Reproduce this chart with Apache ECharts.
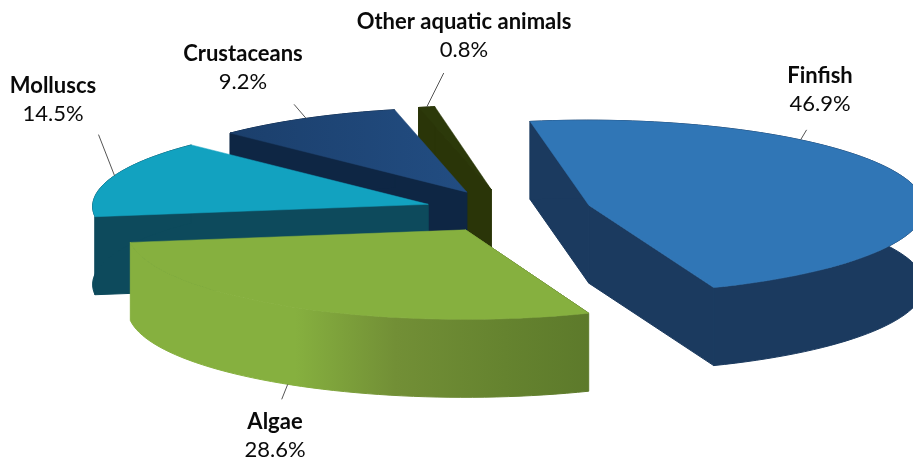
<!DOCTYPE html>
<html>
<head>
<meta charset="utf-8">
<style>html,body{margin:0;padding:0;background:#fff}#chart{width:913px;height:457px}</style>
<script src="https://cdn.jsdelivr.net/npm/echarts@6/dist/echarts.min.js"></script>
</head>
<body>
<div id="chart"></div>
<script>
// Share of production by group, in percent, listed clockwise from the first slice.
const groupNames = ['Finfish', 'Algae', 'Molluscs', 'Crustaceans', 'Other aquatic animals'];
const groupShares = [46.9, 28.6, 14.5, 9.2, 0.8];

// Colours per group: top face, side walls.
const topColors = ['#3076b6', '#86b03f', '#12a2c0', '#1e4776', '#2c390a'];
const wallColors = ['#1b3a5f', '#5d7a2b', '#0d4a5c', '#0e2644', '#2a3508'];

// Painting order, far slices first.
const paintRank = [3, 4, 2, 1, 0];

// Tilted-disc geometry of the whole pie.
const pie = { cx: 508, cy: 211, rx: 336, ry: 87, perspective: 0.02, depth: 78, explode: 0.25, startDeg: 260 };

// Label centres, leader tips relative to their rim anchor, and where on the slice's arc the leader starts.
const labelCenters = [[820, 76], [275, 422], [53, 86], [243, 54], [464, 22]];
const leaderTips = [[6, -10], [-6, 15], [-16, -41], [-12, -14], [17, -34]];
const leaderArcFraction = [0.297, 0.507, 0.53, 0.5, 0.5];
const lineGap = 28;
const fontFamily = 'Lato, "Open Sans", sans-serif';

const total = groupShares.reduce((a, b) => a + b, 0);
const sweeps = groupShares.map(v => v / total * 360);
const starts = sweeps.map((_, i) => pie.startDeg + sweeps.slice(0, i).reduce((a, b) => a + b, 0));

// Projects a point given in disc units onto the screen.
function project(X, Y) {
  const s = 1 + pie.perspective * Y;
  return [pie.cx + pie.rx * X * s, pie.cy + pie.ry * Y * s];
}

function sliceGeometry(i) {
  const mid = (starts[i] + sweeps[i] / 2) * Math.PI / 180;
  const ox = pie.explode * Math.cos(mid);
  const oy = pie.explode * Math.sin(mid);
  const rim = deg => {
    const a = deg * Math.PI / 180;
    return project(ox + Math.cos(a), oy + Math.sin(a));
  };
  const arc = [];
  const steps = Math.max(6, Math.ceil(sweeps[i] / 2));
  for (let k = 0; k <= steps; k++) arc.push(rim(starts[i] + sweeps[i] * k / steps));
  return { apex: project(ox, oy), arc, rim };
}

const drop = p => [p[0], p[1] + pie.depth];

// A cut face shows only when its outward normal points towards the viewer.
const facesViewer = deg => Math.sin(deg * Math.PI / 180) > 0;

function wallFill(i) {
  if (i !== 1) return wallColors[i];
  // The algae wall catches the light on its left and falls into shade on the right.
  return new echarts.graphic.LinearGradient(131, 0, 587, 0, [
    { offset: 0, color: topColors[1] },
    { offset: 0.36, color: topColors[1] },
    { offset: 0.58, color: '#728f36' },
    { offset: 0.82, color: '#65832f' },
    { offset: 1, color: wallColors[1] }
  ], true);
}

function topFill(i) {
  if (i !== 3) return topColors[i];
  // The crustacean face brightens slightly towards the centre of the pie.
  return new echarts.graphic.LinearGradient(233, 0, 468, 0, [
    { offset: 0, color: '#1b3f6c' },
    { offset: 1, color: '#224d82' }
  ], true);
}

function renderSlice(params, api) {
  const i = params.dataIndex;
  const share = api.value(0);
  const g = sliceGeometry(i);
  const base = paintRank[i] * 10;
  const first = g.arc[0];
  const last = g.arc[g.arc.length - 1];
  const poly = (points, fill, z, width) => ({
    type: 'polygon', z2: base + z, shape: { points }, style: { fill, stroke: fill, lineWidth: width }
  });
  const anchorDeg = starts[i] + sweeps[i] * leaderArcFraction[i];
  const rimAnchor = g.rim(anchorDeg);
  const anchor = i === 1 ? drop(rimAnchor) : rimAnchor;
  const tip = [anchor[0] + leaderTips[i][0], anchor[1] + leaderTips[i][1]];
  const [lx, ly] = labelCenters[i];
  const text = (str, y, weight) => ({
    type: 'text', z2: 100,
    style: {
      x: lx, y, text: str, fill: '#0a0a0a',
      font: weight + ' 22px ' + fontFamily,
      textAlign: 'center', textVerticalAlign: 'middle', align: 'center', verticalAlign: 'middle'
    }
  });
  const children = [];
  if (facesViewer(starts[i] - 90)) children.push(poly([g.apex, first, drop(first), drop(g.apex)], wallColors[i], 1, 1));
  if (facesViewer(starts[i] + sweeps[i] + 90)) children.push(poly([g.apex, last, drop(last), drop(g.apex)], wallColors[i], 1, 1));
  children.push(
    // The wall body reaches under the top face, so no hairline opens along the rim.
    poly([g.apex].concat(g.arc, g.arc.map(drop).reverse(), [first]), wallFill(i), 2, 1),
    poly([g.apex].concat(g.arc), topFill(i), 3, 0.5),
    {
      type: 'line', z2: 90,
      shape: { x1: anchor[0], y1: anchor[1], x2: tip[0], y2: tip[1] },
      style: { stroke: '#555', lineWidth: 1 }
    },
    text(groupNames[i], ly, 'bold'),
    text(share.toFixed(1) + '%', ly + lineGap, 'normal')
  );
  return { type: 'group', children };
}

const chart = echarts.init(document.getElementById('chart'), null, { renderer: 'canvas' });
chart.setOption({
  animation: false,
  backgroundColor: '#ffffff',
  series: [{
    type: 'custom',
    coordinateSystem: 'none',
    silent: true,
    clip: false,
    renderItem: renderSlice,
    data: groupShares.map((v, i) => ({ name: groupNames[i], value: [v] }))
  }]
});
</script>
</body>
</html>
